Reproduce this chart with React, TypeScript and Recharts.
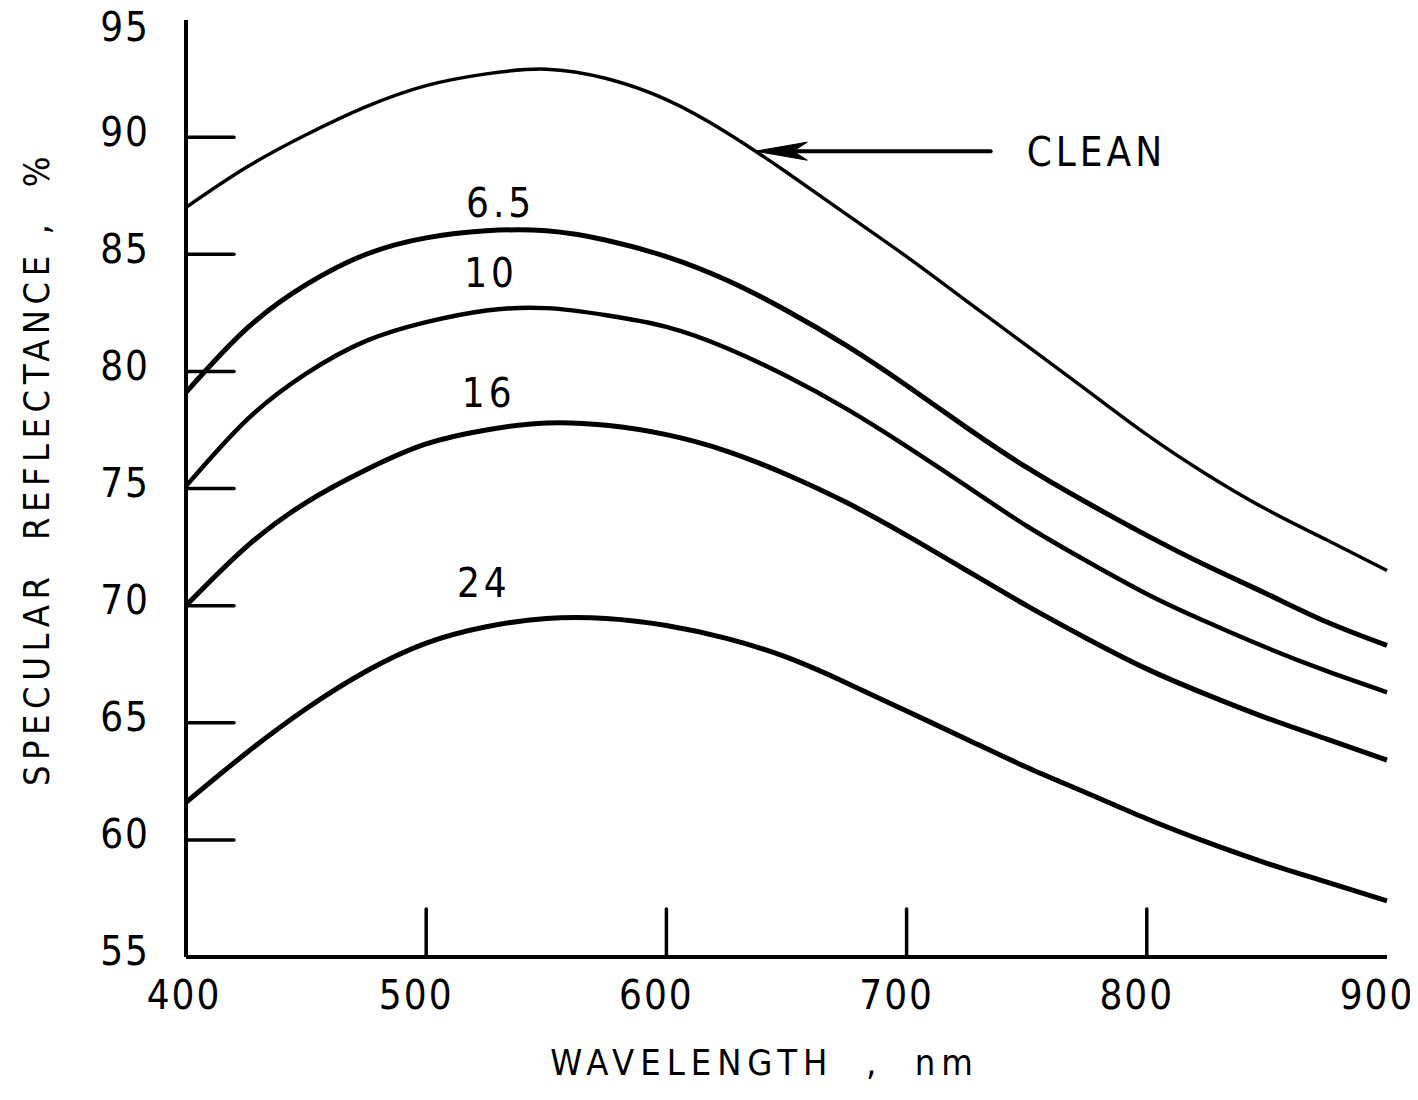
import React from 'react';
import { LineChart, Line, XAxis, YAxis, ReferenceLine, ReferenceDot } from 'recharts';

// ---- data ----
const wavelengths = [400, 425, 450, 475, 500, 525, 550, 575, 600, 625, 650, 675, 700, 725, 750, 775, 800, 825, 850, 875, 900];
const clean = [87.0, 88.7, 90.1, 91.3, 92.2, 92.7, 92.9, 92.5, 91.6, 90.2, 88.5, 86.7, 84.9, 83.0, 81.1, 79.2, 77.3, 75.6, 74.1, 72.8, 71.5];
const dust65 = [79.1, 81.8, 83.7, 85.0, 85.7, 86.0, 86.0, 85.6, 84.9, 83.9, 82.6, 81.1, 79.4, 77.6, 75.9, 74.4, 73.0, 71.7, 70.5, 69.3, 68.3];
const dust10 = [75.1, 77.9, 79.9, 81.3, 82.1, 82.6, 82.7, 82.4, 81.9, 81.0, 79.8, 78.4, 76.8, 75.1, 73.4, 71.9, 70.5, 69.3, 68.2, 67.2, 66.3];
const dust16 = [70.0, 72.5, 74.4, 75.8, 76.9, 77.5, 77.8, 77.7, 77.3, 76.6, 75.6, 74.4, 73.0, 71.5, 70.0, 68.6, 67.3, 66.2, 65.2, 64.3, 63.4];
const dust24 = [61.6, 63.7, 65.6, 67.2, 68.4, 69.1, 69.45, 69.45, 69.15, 68.6, 67.8, 66.7, 65.5, 64.3, 63.1, 62.0, 60.9, 59.9, 59.0, 58.2, 57.4];

const xTicks = [400, 500, 600, 700, 800, 900];
const yTicks = [55, 60, 65, 70, 75, 80, 85, 90, 95];
const xDomain = [400, 900];
const yDomain = [55, 95];

const curveLabelText = ['6.5', '10', '16', '24'];
const curveLabelNm = [531, 527, 526, 524];
const curveLabelValue = [87.2, 84.2, 79.1, 71.0];

const arrowValue = 89.4;
const arrowTipNm = 637;
const arrowTailNm = 735;
const cleanLabelNm = 750;
const cleanLabelText = 'CLEAN';

const xTitle = 'WAVELENGTH\u00A0\u00A0,\u00A0\u00A0nm';
const yTitle = 'SPECULAR\u00A0\u00A0REFLECTANCE\u00A0,\u00A0\u00A0%';

const data = wavelengths.map((nm, i) => ({
  nm,
  clean: clean[i],
  d65: dust65[i],
  d10: dust10[i],
  d16: dust16[i],
  d24: dust24[i],
}));

const curveLabels = curveLabelText.map((t, i) => ({ text: t, nm: curveLabelNm[i], value: curveLabelValue[i] }));

// ---- styling ----
const FONT = "'Liberation Sans Narrow', 'DejaVu Sans Condensed', 'DejaVu Sans', sans-serif";
const INK = '#000';
const TICK_LEN = 48;
const M_BOTTOM = 38;
const M_LEFT = 38;
const M_HIDDEN = 4;
const SHIFT = 16; // chart is drawn 16px higher with a matching extra top margin so top labels stay inside the svg

const BottomTick = (props: any) => {
  const { x, y, payload } = props;
  const v = payload.value;
  const inner = v !== xDomain[0] && v !== xDomain[1];
  const lx = v === xDomain[0] ? x - 2 : x - 10;
  return (
    <g>
      {inner && (
        <line x1={x} x2={x} y1={y - M_BOTTOM} y2={y - M_BOTTOM - TICK_LEN} stroke={INK} strokeWidth={3.5} strokeLinecap="round" />
      )}
      <text x={lx} y={y} dy="0.36em" textAnchor="middle" fontFamily={FONT} fontSize={40} fill={INK} style={{ letterSpacing: '2px' }}>
        {v}
      </text>
    </g>
  );
};

const TopTick = (props: any) => {
  const { x, y, payload } = props;
  const v = payload.value;
  const inner = v !== xDomain[0] && v !== xDomain[1];
  if (!inner) return <g />;
  return <line x1={x} x2={x} y1={y + M_HIDDEN} y2={y + M_HIDDEN + TICK_LEN} stroke={INK} strokeWidth={3.5} strokeLinecap="round" />;
};

const LeftTick = (props: any) => {
  const { x, y, payload } = props;
  const v = payload.value;
  const inner = v !== yDomain[0] && v !== yDomain[1];
  const ly = v === yDomain[1] ? y + 7 : y - 6;
  return (
    <g>
      {inner && (
        <line x1={x + M_LEFT} x2={x + M_LEFT + TICK_LEN} y1={y} y2={y} stroke={INK} strokeWidth={3.5} strokeLinecap="round" />
      )}
      <text x={x + 2} y={ly} dy="0.36em" textAnchor="end" fontFamily={FONT} fontSize={40} fill={INK} style={{ letterSpacing: '2px' }}>
        {v}
      </text>
    </g>
  );
};

const RightTick = (props: any) => {
  const { x, y, payload } = props;
  const v = payload.value;
  const inner = v !== yDomain[0] && v !== yDomain[1];
  if (!inner) return <g />;
  return <line x1={x - M_HIDDEN} x2={x - M_HIDDEN - TICK_LEN} y1={y} y2={y} stroke={INK} strokeWidth={3.5} strokeLinecap="round" />;
};

const XTitle = (props: any) => {
  const vb = props.viewBox || {};
  const cx = vb.x + vb.width / 2 - 22;
  const y = vb.y + 118;
  return (
    <text x={cx} y={y} textAnchor="middle" fontFamily={FONT} fontSize={36} fill={INK} style={{ letterSpacing: '6px', whiteSpace: 'pre' }}>
      {xTitle}
    </text>
  );
};

const YTitle = (props: any) => {
  const vb = props.viewBox || {};
  const x = vb.x + 41;
  const y = vb.y + vb.height / 2 - 20;
  return (
    <text x={x} y={y} transform={`rotate(-90, ${x}, ${y})`} textAnchor="middle" fontFamily={FONT} fontSize={36} fill={INK} style={{ letterSpacing: '5.5px', whiteSpace: 'pre' }}>
      {yTitle}
    </text>
  );
};

const ArrowShape = (props: any) => {
  const { x1, y1, x2, y2 } = props;
  if (x1 == null) return <g />;
  const headLen = 52;
  const half = 9;
  return (
    <g>
      <line x1={x1} y1={y1} x2={x2 + 30} y2={y2} stroke={INK} strokeWidth={4} strokeLinecap="round" />
      <polygon
        points={`${x2},${y2} ${x2 + headLen},${y2 - half} ${x2 + headLen - 14},${y2} ${x2 + headLen},${y2 + half}`}
        fill={INK}
        stroke={INK}
        strokeWidth={1}
        strokeLinejoin="round"
      />
    </g>
  );
};

const TextDot = (text: string, anchor: 'start' | 'middle', spacing: number) => (props: any) => {
  const { cx, cy } = props;
  return (
    <text x={cx} y={cy} dy="0.36em" textAnchor={anchor} fontFamily={FONT} fontSize={40} fill={INK} style={{ letterSpacing: `${spacing}px` }}>
      {text}
    </text>
  );
};

export default function App() {
  const W = 1410;
  const H = 1084 + SHIFT;
  return (
    <div style={{ width: W, height: H, background: '#fff', position: 'relative', top: -SHIFT }}>
      <LineChart width={W} height={H} data={data} margin={{ top: 12 + SHIFT, right: 31, left: 0, bottom: 0 }}>
        <XAxis
          xAxisId="bottom"
          dataKey="nm"
          type="number"
          domain={xDomain}
          ticks={xTicks}
          interval={0}
          orientation="bottom"
          height={135}
          tickSize={0}
          tickMargin={M_BOTTOM}
          tick={BottomTick}
          axisLine={{ stroke: INK, strokeWidth: 4 }}
          tickLine={false}
          label={XTitle}
        />
        <XAxis
          xAxisId="top"
          dataKey="nm"
          type="number"
          domain={xDomain}
          ticks={xTicks}
          interval={0}
          orientation="top"
          height={0}
          tickSize={0}
          tickMargin={M_HIDDEN}
          tick={TopTick}
          axisLine={{ stroke: INK, strokeWidth: 4 }}
          tickLine={false}
        />
        <YAxis
          yAxisId="left"
          type="number"
          domain={yDomain}
          ticks={yTicks}
          interval={0}
          orientation="left"
          width={178}
          tickSize={0}
          tickMargin={M_LEFT}
          tick={LeftTick}
          axisLine={{ stroke: INK, strokeWidth: 4 }}
          tickLine={false}
          label={YTitle}
        />
        <YAxis
          yAxisId="right"
          type="number"
          domain={yDomain}
          ticks={yTicks}
          interval={0}
          orientation="right"
          width={0}
          tickSize={0}
          tickMargin={M_HIDDEN}
          tick={RightTick}
          axisLine={{ stroke: INK, strokeWidth: 4 }}
          tickLine={false}
        />
        <Line xAxisId="bottom" yAxisId="left" dataKey="clean" type="natural" stroke={INK} strokeWidth={3.5} dot={false} activeDot={false} isAnimationActive={false} />
        <Line xAxisId="bottom" yAxisId="left" dataKey="d65" type="natural" stroke={INK} strokeWidth={5} dot={false} activeDot={false} isAnimationActive={false} />
        <Line xAxisId="bottom" yAxisId="left" dataKey="d10" type="natural" stroke={INK} strokeWidth={4.5} dot={false} activeDot={false} isAnimationActive={false} />
        <Line xAxisId="bottom" yAxisId="left" dataKey="d16" type="natural" stroke={INK} strokeWidth={5} dot={false} activeDot={false} isAnimationActive={false} />
        <Line xAxisId="bottom" yAxisId="left" dataKey="d24" type="natural" stroke={INK} strokeWidth={5} dot={false} activeDot={false} isAnimationActive={false} />
        <ReferenceLine
          xAxisId="bottom"
          yAxisId="left"
          segment={[{ x: arrowTailNm, y: arrowValue }, { x: arrowTipNm, y: arrowValue }]}
          shape={ArrowShape}
        />
        <ReferenceDot xAxisId="bottom" yAxisId="left" x={cleanLabelNm} y={arrowValue} r={0} shape={TextDot(cleanLabelText, 'start', 4)} />
        {curveLabels.map((c) => (
          <ReferenceDot key={c.text} xAxisId="bottom" yAxisId="left" x={c.nm} y={c.value} r={0} shape={TextDot(c.text, 'middle', 4)} />
        ))}
      </LineChart>
    </div>
  );
}
